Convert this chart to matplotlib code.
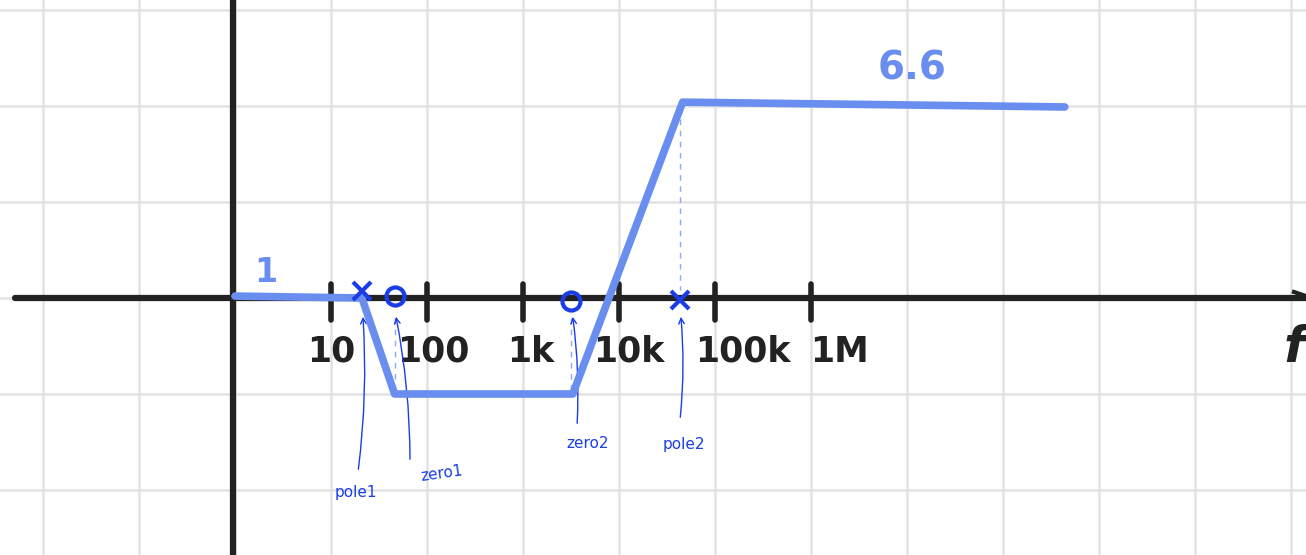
"""Asymptotic Bode magnitude sketch: two poles, two zeros on a log frequency axis."""

import matplotlib
matplotlib.use('Agg')
import matplotlib.pyplot as plt

# asymptotic magnitude (grid units) at the break points
freq_hz = [1, 21, 46, 3300, 46000, 4.4e8]
gain = [0.02, 0.0, -1.0, -1.0, 2.04, 1.99]

poles_hz = [21, 43000]
zeros_hz = [46, 3200]
pz_names = ['pole1', 'zero1', 'zero2', 'pole2']

decade_hz = [10, 100, 1e3, 1e4, 1e5, 1e6]
decade_labels = ['10', '100', '1k', '10k', '100k', '1M']

low_label, high_label = '1', '6.6'

W, H = 1306, 555
DEC = 96.0          # pixels per decade / per grid unit
X0, Y0 = 235, 298   # pixel position of f = 1 Hz, gain = 0

BLUE = '#6a8eef'
INK = '#1a3de6'
BLACK = '#222222'
GUIDE = '#8ea8f2'


def px(x, y):
    """pixel position -> data coordinates"""
    return 10 ** ((x - X0) / DEC), (Y0 - y) / DEC


def ypx(y):
    return (Y0 - y) / DEC


fig = plt.figure(figsize=(W / 100, H / 100), dpi=100)
ax = fig.add_axes([0, 0, 1, 1])
ax.set_xscale('log')

# notebook grid: one square per decade
ax.set_xticks([10.0 ** k for k in range(-2, 12)])
ax.xaxis.set_minor_locator(matplotlib.ticker.NullLocator())
ax.set_yticks(range(-2, 4))
ax.grid(color='#e2e2e2', lw=1.8)
ax.tick_params(length=0, labelbottom=False, labelleft=False)
for s in ax.spines.values():
    s.set_visible(False)

x_lo, y_hi = px(0, 0)
x_hi, y_lo = px(W, H)
ax.set_xlim(x_lo, x_hi)
ax.set_ylim(y_lo, y_hi)

# axes
ax.plot([px(15, 0)[0], x_hi], [0, 0], color=BLACK, lw=4.5, solid_capstyle='round', zorder=3)
ax.plot([px(233, 0)[0]] * 2, [y_lo, y_hi], color=BLACK, lw=4.5, zorder=3)
ax.plot([px(1294, 0)[0], x_hi], [ypx(292), ypx(296)], color=BLACK, lw=3, zorder=3)

# decade ticks and labels (label shift in pixels, as written)
label_shift = [0, 6, 8, 10, 28, 28]
for f, lab, dx in zip(decade_hz, decade_labels, label_shift):
    ax.plot([f, f], [ypx(284), ypx(320)], color=BLACK, lw=4,
            solid_capstyle='round', zorder=3)
    ax.text(f * 10 ** (dx / DEC), ypx(352), lab, ha='center', va='center',
            fontsize=25, fontweight='heavy', color=BLACK, zorder=3)
ax.text(*px(1284, 348), 'f', ha='left', va='center', fontsize=36,
        fontweight='heavy', color=BLACK, fontstyle='italic')

# magnitude asymptotes
ax.plot(freq_hz, gain, color=BLUE, lw=5.5, solid_capstyle='round',
        solid_joinstyle='round', zorder=4)
ax.text(*px(266, 272), low_label, ha='center', va='center', fontsize=24,
        fontweight='heavy', color=BLUE)
ax.text(*px(912, 68), high_label, ha='center', va='center', fontsize=28,
        fontweight='heavy', color=BLUE)

# pole / zero markers
ax.plot(poles_hz, [0.07, -0.02], ls='none', marker='x', ms=13, mew=3,
        color=INK, zorder=5)
ax.plot(zeros_hz, [0.02, -0.03], ls='none', marker='o', ms=13, mew=3,
        mfc='none', color=INK, zorder=5)

# dashed guides from break points to the axis
ax.plot([zeros_hz[0]] * 2, [ypx(318), ypx(392)], ls=(0, (4, 4)), lw=1, color=GUIDE, zorder=2)
ax.plot([zeros_hz[1]] * 2, [ypx(318), ypx(390)], ls=(0, (4, 4)), lw=1, color=GUIDE, zorder=2)
ax.plot([poles_hz[1]] * 2, [ypx(108), ypx(290)], ls=(0, (4, 4)), lw=1, color=GUIDE, zorder=2)

# handwritten annotations: (target freq, text pixel, arrow tail pixel, rotation)
notes = [
    (poles_hz[0], (356, 492), (358, 472), 0),
    (zeros_hz[0], (442, 474), (410, 462), 8),
    (zeros_hz[1], (588, 444), (577, 426), 0),
    (poles_hz[1], (684, 444), (680, 420), 0),
]
for name, (f, txt, tail, rot) in zip(pz_names, notes):
    ax.text(*px(*txt), name, ha='center', va='center', fontsize=11,
            color=INK, rotation=rot)
    ax.annotate('', xy=(f * 1.02, ypx(314)), xytext=px(*tail),
                arrowprops=dict(arrowstyle='->', lw=1, color=INK,
                                connectionstyle='arc3,rad=0.05'))

fig.savefig('out.png', dpi=100)
